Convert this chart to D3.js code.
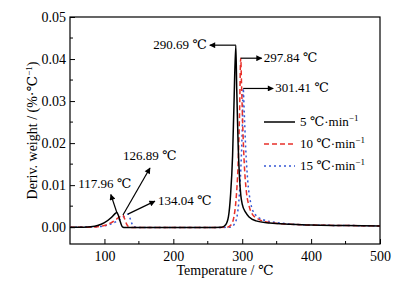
<!DOCTYPE html>
<html>
<head>
<meta charset="utf-8">
<script src="https://cdn.jsdelivr.net/npm/d3@7"></script>
<style>
  body { margin: 0; background: #fff; }
  text { font-family: "Liberation Serif", "DejaVu Serif", serif; }
</style>
</head>
<body>
<div id="chart"></div>
<script>
// heating rates, deg C per minute
var rates = ["5", "10", "15"];

// 5 C/min
var temp5 = [50, 70, 80, 90, 100, 110, 114, 117.96, 120, 123, 126, 130, 150, 200, 250, 270, 276, 280, 283, 286, 288, 290.69, 292, 294, 296, 298, 300, 305, 310, 320, 340, 370, 400, 450, 500];
var deriv5 = [0, 0, 0.0001, 0.0004, 0.0011, 0.0023, 0.0030, 0.0035, 0.0029, 0.0013, 0.0001, -0.0001, -0.0001, -0.0001, -0.0001, 0, 0.0006, 0.0025, 0.0075, 0.0170, 0.0290, 0.0433, 0.0330, 0.0200, 0.0120, 0.0075, 0.0055, 0.0035, 0.0024, 0.0015, 0.0010, 0.0007, 0.0005, 0.0004, 0.0003];

// 10 C/min
var temp10 = [50, 80, 90, 100, 110, 120, 126.89, 129, 132, 135, 140, 150, 200, 250, 278, 284, 288, 291, 294, 296, 297.84, 299, 301, 303, 306, 310, 315, 325, 340, 370, 400, 450, 500];
var deriv10 = [0, 0, 0.0001, 0.0004, 0.0011, 0.0022, 0.0029, 0.0021, 0.0008, 0.0001, -0.0001, -0.0001, -0.0001, -0.0001, 0, 0.0006, 0.0025, 0.0065, 0.0150, 0.0260, 0.0402, 0.0340, 0.0230, 0.0150, 0.0085, 0.0050, 0.0030, 0.0018, 0.0011, 0.0007, 0.0005, 0.0004, 0.0003];

// 15 C/min
var temp15 = [50, 90, 100, 110, 120, 128, 134.04, 137, 140, 143, 150, 200, 250, 282, 288, 292, 295, 298, 300, 301.41, 303, 305, 308, 312, 318, 330, 350, 400, 450, 500];
var deriv15 = [0, 0.0001, 0.0003, 0.0008, 0.0016, 0.0025, 0.0031, 0.0022, 0.0008, 0.0001, -0.0001, -0.0001, -0.0001, 0, 0.0006, 0.0022, 0.0060, 0.0140, 0.0230, 0.0330, 0.0270, 0.0190, 0.0110, 0.0060, 0.0032, 0.0018, 0.0011, 0.0005, 0.0004, 0.0003];

var xTicks = [100, 200, 300, 400, 500];
var yTicks = [0.00, 0.01, 0.02, 0.03, 0.04, 0.05];

// peak labels
var peakTemps = [290.69, 297.84, 301.41, 117.96, 126.89, 134.04];
var peakVals = [0.0433, 0.0402, 0.0330, 0.0035, 0.0029, 0.0031];

var width = 408, height = 287;
var margin = { top: 17, right: 28, bottom: 43, left: 70 };

var svg = d3.select("#chart").append("svg")
  .attr("width", width).attr("height", height);

var x = d3.scaleLinear().domain([50, 500]).range([margin.left, width - margin.right]);
var y = d3.scaleLinear().domain([-0.004, 0.05]).range([height - margin.bottom, margin.top]);

var defs = svg.append("defs");
defs.append("marker").attr("id", "arr")
  .attr("viewBox", "0 0 10 10").attr("refX", 9).attr("refY", 5)
  .attr("markerWidth", 8).attr("markerHeight", 6)
  .attr("markerUnits", "userSpaceOnUse")
  .attr("orient", "auto")
  .append("path").attr("d", "M0,0 L10,5 L0,10 z").attr("fill", "#000");

defs.append("clipPath").attr("id", "clip").append("rect")
  .attr("x", x(50)).attr("y", y(0.05)).attr("width", x(500) - x(50)).attr("height", y(-0.004) - y(0.05));

// axes, ticks inward
var xAxis = d3.axisBottom(x).tickValues(xTicks).tickSize(-5).tickPadding(7).tickFormat(d3.format("d"));
var yAxis = d3.axisLeft(y).tickValues(yTicks).tickSize(-5).tickPadding(4).tickFormat(d3.format(".2f"));

var gx = svg.append("g").attr("transform", "translate(0," + y(-0.004) + ")").call(xAxis);
var gy = svg.append("g").attr("transform", "translate(" + x(50) + ",0)").call(yAxis);
[gx, gy].forEach(function (g) {
  g.select(".domain").remove();
  g.selectAll("line").attr("stroke", "#000").attr("stroke-width", 1);
  g.selectAll("text").attr("font-size", 14).attr("fill", "#000")
    .style("font-family", "'Liberation Serif', serif");
});

// minor ticks
var xMinor = d3.range(150, 500, 100);
svg.append("g").selectAll("line").data(xMinor).join("line")
  .attr("x1", function (d) { return x(d); }).attr("x2", function (d) { return x(d); })
  .attr("y1", y(-0.004)).attr("y2", y(-0.004) - 3)
  .attr("stroke", "#000");
var yMinor = d3.range(0.005, 0.05, 0.01);
svg.append("g").selectAll("line").data(yMinor).join("line")
  .attr("y1", function (d) { return y(d); }).attr("y2", function (d) { return y(d); })
  .attr("x1", x(50)).attr("x2", x(50) + 3)
  .attr("stroke", "#000");

// frame
svg.append("rect")
  .attr("x", x(50)).attr("y", y(0.05))
  .attr("width", x(500) - x(50)).attr("height", y(-0.004) - y(0.05))
  .attr("fill", "none").attr("stroke", "#000").attr("stroke-width", 1.2);

var series = [
  { t: temp15, v: deriv15, color: "#3557d4", dash: "2,3" },
  { t: temp10, v: deriv10, color: "#e8302a", dash: "5,3" },
  { t: temp5, v: deriv5, color: "#000", dash: null }
];

var line = d3.line()
  .x(function (d) { return x(d[0]); })
  .y(function (d) { return y(d[1]); })
  .curve(d3.curveMonotoneX);

var plot = svg.append("g").attr("clip-path", "url(#clip)");
series.forEach(function (s) {
  plot.append("path")
    .datum(d3.zip(s.t, s.v))
    .attr("d", line)
    .attr("fill", "none")
    .attr("stroke", s.color)
    .attr("stroke-width", 1.5)
    .attr("stroke-dasharray", s.dash);
});

// peak annotations: arrow offset (px) and text position relative to arrow tip
var ann = [
  { dx: -26, dy: 0, anchor: "end", tx: -3, ty: 4 },
  { dx: 21, dy: 0, anchor: "start", tx: 2, ty: 4 },
  { dx: 30, dy: 0, anchor: "start", tx: 2, ty: 4 },
  { dx: -6, dy: -18, anchor: "middle", tx: -6, ty: -6 },
  { dx: 27, dy: -47, anchor: "start", tx: -27, ty: -8 },
  { dx: 27, dy: -13, anchor: "start", tx: 3, ty: 4 }
];

var annG = svg.append("g");
peakTemps.forEach(function (t, i) {
  var a = ann[i];
  var px = x(t), py = y(peakVals[i]);
  annG.append("line")
    .attr("x1", px).attr("y1", py)
    .attr("x2", px + a.dx).attr("y2", py + a.dy)
    .attr("stroke", "#000").attr("stroke-width", 1.2)
    .attr("marker-end", "url(#arr)");
  annG.append("text")
    .attr("x", px + a.dx + a.tx).attr("y", py + a.dy + a.ty)
    .attr("text-anchor", a.anchor)
    .attr("font-size", 13)
    .text(d3.format(".2f")(t) + " ℃");
});

// legend
var legendColors = ["#000", "#e8302a", "#3557d4"];
var legendDash = [null, "5,3", "2,3"];
var lg = svg.append("g");
rates.forEach(function (r, i) {
  var ly = 122 + i * 22;
  lg.append("line")
    .attr("x1", 264).attr("x2", 295).attr("y1", ly).attr("y2", ly)
    .attr("stroke", legendColors[i]).attr("stroke-width", 1.5)
    .attr("stroke-dasharray", legendDash[i]);
  var tx = lg.append("text").attr("x", 300).attr("y", ly + 4).attr("font-size", 13);
  tx.append("tspan").text(r + " ℃·min");
  tx.append("tspan").attr("dy", -5).attr("font-size", 9).text("−1");
});

// axis titles
svg.append("text")
  .attr("x", (x(50) + x(500)) / 2).attr("y", 275)
  .attr("text-anchor", "middle").attr("font-size", 14)
  .text("Temperature / ℃");

var yt = svg.append("text")
  .attr("transform", "translate(37," + (y(0.05) + y(-0.004)) / 2 + ") rotate(-90)")
  .attr("text-anchor", "middle").attr("font-size", 14);
yt.append("tspan").text("Deriv. weight / (%·℃");
yt.append("tspan").attr("dy", -5).attr("font-size", 9).text("−1");
yt.append("tspan").attr("dy", 5).text(")");
</script>
</body>
</html>
